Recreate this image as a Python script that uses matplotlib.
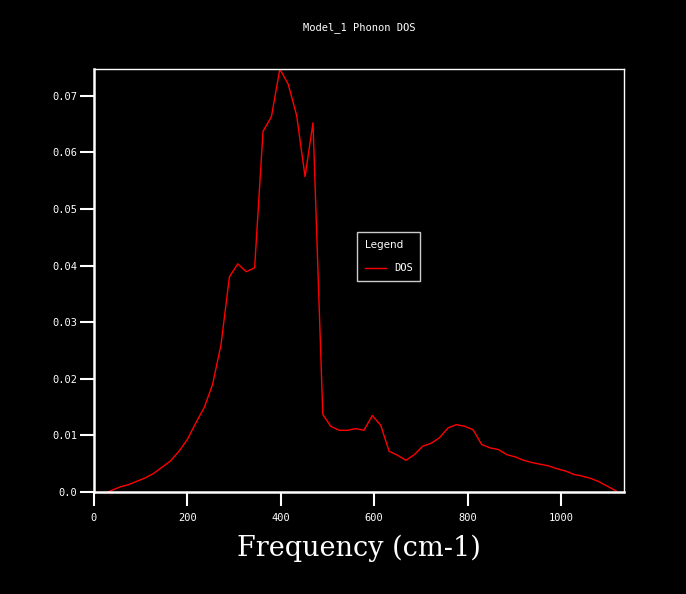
import matplotlib
matplotlib.use('Agg')
import matplotlib.pyplot as plt

# phonon DOS values
freq = [30, 38, 56, 74, 92, 110, 128, 146, 164, 182, 200, 218, 236, 254, 272,
        290, 308, 326, 344, 362, 380, 398, 416, 434, 452, 469, 490, 507, 525,
        543, 560, 578, 596, 614, 632, 650, 668, 686, 704, 722, 740, 758, 776,
        794, 812, 830, 848, 866, 884, 902, 920, 938, 956, 974, 992, 1010, 1028,
        1046, 1064, 1082, 1100, 1118]
dos = [0.0, 0.0003, 0.0009, 0.0013, 0.0019, 0.0025, 0.0033, 0.0044, 0.0055,
       0.0072, 0.0093, 0.0122, 0.0149, 0.0190, 0.0260, 0.0380, 0.0403, 0.0389,
       0.0396, 0.0637, 0.0663, 0.0747, 0.0720, 0.0665, 0.0557, 0.0652, 0.0137,
       0.0116, 0.0109, 0.0109, 0.0112, 0.0109, 0.0135, 0.0118, 0.0072, 0.0065,
       0.0056, 0.0066, 0.0081, 0.0086, 0.0096, 0.0113, 0.0119, 0.0116, 0.0110,
       0.0084, 0.0078, 0.0075, 0.0066, 0.0062, 0.0056, 0.0052, 0.0049, 0.0046,
       0.0041, 0.0037, 0.0031, 0.0028, 0.0024, 0.0018, 0.0010, 0.0002]

xticks = [0, 200, 400, 600, 800, 1000]
yticks = [0.0, 0.01, 0.02, 0.03, 0.04, 0.05, 0.06, 0.07]
ytick_labels = ['0.0', '0.01', '0.02', '0.03', '0.04', '0.05', '0.06', '0.07']

mono = 'DejaVu Sans Mono'

fig = plt.figure(figsize=(6.86, 5.94), dpi=100, facecolor='black')
ax = fig.add_axes([0.137, 0.1717, 0.7726, 0.7121], facecolor='black')

ax.plot(freq, dos, color='red', linewidth=1.0, label='DOS')

ax.set_xlim(0, 1135)
ax.set_ylim(0, 0.0747)
ax.set_xticks(xticks)
ax.set_xticklabels([str(t) for t in xticks], family=mono, fontsize=7.5)
ax.set_yticks(yticks)
ax.set_yticklabels(ytick_labels, family=mono, fontsize=7.5)
ax.tick_params(colors='white', length=10, width=1.5)
ax.tick_params(axis='x', pad=5)
ax.tick_params(axis='y', pad=2)

for side in ['left', 'bottom']:
    ax.spines[side].set_color('white')
    ax.spines[side].set_linewidth(1.8)
for side in ['top', 'right']:
    ax.spines[side].set_color('white')
    ax.spines[side].set_linewidth(1.0)

ax.set_title('Model_1 Phonon DOS', color='white', family=mono, fontsize=7.5, pad=28)
ax.set_xlabel('Frequency (cm-1)', color='white', family='DejaVu Serif',
              fontsize=19.5, labelpad=8.5)

leg = ax.legend(loc='lower left', bbox_to_anchor=(0.497, 0.5), borderaxespad=0,
                title='Legend', frameon=True, fancybox=False, facecolor='black',
                edgecolor='white', labelcolor='white',
                prop={'family': mono, 'size': 7.5},
                handlelength=2.0, borderpad=0.7, labelspacing=1.3,
                alignment='left')
leg.get_title().set_color('white')
leg.get_title().set_family('DejaVu Sans')
leg.get_title().set_fontsize(7.5)
leg.get_frame().set_linewidth(1.0)

fig.savefig('out.png', dpi=100, facecolor='black')
